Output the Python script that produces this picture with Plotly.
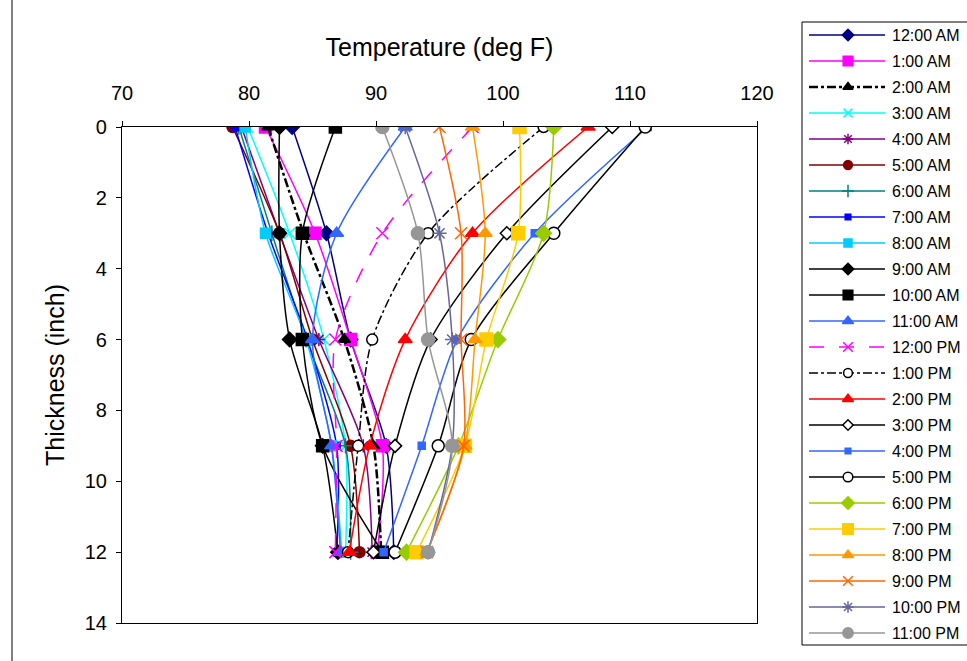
import plotly.graph_objects as go

depths = [0, 3, 6, 9, 12]
x_ticks = [70, 80, 90, 100, 110, 120]
y_ticks = [0, 2, 4, 6, 8, 10, 12, 14]

names = ["12:00 AM", "1:00 AM", "2:00 AM", "3:00 AM", "4:00 AM", "5:00 AM",
         "6:00 AM", "7:00 AM", "8:00 AM", "9:00 AM", "10:00 AM", "11:00 AM",
         "12:00 PM", "1:00 PM", "2:00 PM", "3:00 PM", "4:00 PM", "5:00 PM",
         "6:00 PM", "7:00 PM", "8:00 PM", "9:00 PM", "10:00 PM", "11:00 PM"]

t_12am = [83.4, 86.1, 88.0, 90.8, 91.4]
t_1am = [81.3, 85.2, 88.0, 90.5, 90.1]
t_2am = [81.5, 84.3, 87.5, 89.8, 90.4]
t_3am = [79.9, 83.2, 85.9, 87.6, 87.6]
t_4am = [79.4, 82.4, 85.5, 89.0, 89.7]
t_5am = [78.7, 82.4, 85.0, 88.0, 88.7]
t_6am = [79.2, 81.8, 84.5, 87.6, 88.0]
t_7am = [78.9, 81.5, 84.6, 86.9, 86.9]
t_8am = [79.7, 81.3, 84.5, 86.5, 87.3]
t_9am = [82.4, 82.4, 83.2, 85.8, 87.0]
t_10am = [86.8, 84.2, 84.2, 85.8, 90.5]
t_11am = [92.3, 86.9, 85.0, 86.5, 87.2]
t_12pm = [97.6, 90.5, 86.8, 86.9, 86.8]
t_1pm = [103.2, 94.1, 89.7, 88.6, 87.8]
t_2pm = [106.7, 97.6, 92.3, 89.5, 87.9]
t_3pm = [108.6, 100.3, 94.3, 91.5, 89.8]
t_4pm = [111.4, 102.5, 96.4, 93.6, 90.6]
t_5pm = [111.2, 104.0, 97.5, 94.9, 91.5]
t_6pm = [104.0, 103.2, 99.6, 96.5, 92.4]
t_7pm = [101.3, 101.2, 98.7, 97.0, 93.2]
t_8pm = [97.6, 98.6, 97.8, 97.0, 94.0]
t_9pm = [95.0, 96.7, 96.7, 96.9, 94.0]
t_10pm = [92.3, 95.0, 96.0, 96.0, 94.1]
t_11pm = [90.5, 93.3, 94.1, 96.0, 94.1]

series = [t_12am, t_1am, t_2am, t_3am, t_4am, t_5am, t_6am, t_7am, t_8am,
          t_9am, t_10am, t_11am, t_12pm, t_1pm, t_2pm, t_3pm, t_4pm, t_5pm,
          t_6pm, t_7pm, t_8pm, t_9pm, t_10pm, t_11pm]

# (color, dash, width, marker symbol, marker size, marker fill, marker line color)
styles = [
    ("#000080", "solid", 1.5, "diamond", 11, "#000080", "#000080"),
    ("#FF00FF", "solid", 1.5, "square", 12, "#FF00FF", "#FF00FF"),
    ("#000000", "dashdot", 2.5, "triangle-up", 11, "#000000", "#000000"),
    ("#00FFFF", "solid", 1.5, "x-thin-open", 11, "#00FFFF", "#00FFFF"),
    ("#800080", "solid", 1.5, "asterisk-open", 11, "#800080", "#800080"),
    ("#800000", "solid", 1.5, "circle", 11, "#800000", "#800000"),
    ("#008080", "solid", 1.5, "cross-thin-open", 11, "#008080", "#008080"),
    ("#0000FF", "solid", 1.5, "square", 7, "#0000FF", "#0000FF"),
    ("#00CCFF", "solid", 1.5, "square", 10, "#00CCFF", "#00CCFF"),
    ("#000000", "solid", 1.5, "diamond", 11, "#000000", "#000000"),
    ("#000000", "solid", 1.5, "square", 12, "#000000", "#000000"),
    ("#3366FF", "solid", 1.5, "triangle-up", 12, "#3366FF", "#3366FF"),
    ("#FF00FF", "longdash", 1.5, "x-thin-open", 12, "#FF00FF", "#FF00FF"),
    ("#000000", "dashdot", 1.5, "circle", 11, "#FFFFFF", "#000000"),
    ("#FF0000", "solid", 1.5, "triangle-up", 12, "#FF0000", "#FF0000"),
    ("#000000", "solid", 1.5, "diamond", 10, "#FFFFFF", "#000000"),
    ("#3366FF", "solid", 1.5, "square", 7, "#3366FF", "#3366FF"),
    ("#000000", "solid", 1.5, "circle", 12, "#FFFFFF", "#000000"),
    ("#99CC00", "solid", 1.5, "diamond", 12, "#99CC00", "#99CC00"),
    ("#FFCC00", "solid", 1.5, "square", 13, "#FFCC00", "#FFCC00"),
    ("#FF9900", "solid", 1.5, "triangle-up", 12, "#FF9900", "#FF9900"),
    ("#FF6600", "solid", 1.5, "x-thin-open", 12, "#FF6600", "#FF6600"),
    ("#666699", "solid", 1.5, "asterisk-open", 12, "#666699", "#666699"),
    ("#969696", "solid", 1.5, "circle", 13, "#969696", "#969696"),
]

W, H = 967, 661
PL, PR, PT, PB = 122, 757, 127, 623   # plot area in pixels
LX0, LY0, LY1 = 802, 22, 645          # legend box
ROW0, ROWH = 35, 26                   # legend row centres
SX0, SXM, SX1, TX = 809, 848, 885, 890

fig = go.Figure()
for i, (name, vals, st) in enumerate(zip(names, series, styles)):
    color, dash, width, sym, size, fill, mline = st
    fig.add_trace(go.Scatter(
        x=vals, y=depths, name=name, mode="lines+markers", showlegend=False,
        line=dict(color=color, dash=dash, width=width, shape="spline", smoothing=0.8),
        marker=dict(symbol=sym, size=size, color=fill,
                    line=dict(color=mline, width=1.5)),
        xaxis="x", yaxis="y",
    ))
    # legend sample
    ry = ROW0 + ROWH * i
    fig.add_trace(go.Scatter(
        x=[SX0, SX1], y=[ry, ry], mode="lines", showlegend=False,
        hoverinfo="skip", line=dict(color=color, dash=dash, width=width),
        xaxis="x2", yaxis="y2",
    ))
    fig.add_trace(go.Scatter(
        x=[SXM], y=[ry], mode="markers", showlegend=False, hoverinfo="skip",
        marker=dict(symbol=sym, size=size * 0.8, color=fill,
                    line=dict(color=mline, width=1.5)),
        xaxis="x2", yaxis="y2",
    ))
    fig.add_annotation(x=TX, y=ry, xref="x2", yref="y2", text=name,
                       showarrow=False, xanchor="left", yanchor="middle",
                       font=dict(size=16))

font = "Liberation Sans, Arial, sans-serif"
fig.update_layout(
    width=W, height=H,
    margin=dict(l=0, r=0, t=0, b=0),
    paper_bgcolor="white", plot_bgcolor="rgba(0,0,0,0)",
    font=dict(family=font, color="black"),
    showlegend=False,
    xaxis=dict(domain=[PL / W, PR / W], anchor="y",
               side="top", range=[70, 120], tickvals=x_ticks,
               ticks="outside", ticklen=5, tickcolor="black",
               ticklabelstandoff=13, automargin=False,
               showline=True, linecolor="black", linewidth=1.2, mirror=True,
               showgrid=False, zeroline=False,
               tickfont=dict(size=20),
               title=dict(text="Temperature (deg F)", font=dict(size=25), standoff=18)),
    yaxis=dict(domain=[1 - PB / H, 1 - PT / H], anchor="x",
               range=[14, 0], tickvals=y_ticks,
               ticks="outside", ticklen=5, tickcolor="black",
               ticklabelstandoff=5, automargin=False,
               showline=True, linecolor="black", linewidth=1.2, mirror=True,
               showgrid=False, zeroline=False,
               tickfont=dict(size=20),
               title=dict(text="Thickness (inch)", font=dict(size=25), standoff=12)),
    xaxis2=dict(domain=[0, 1], anchor="y2", range=[0, W], visible=False, fixedrange=True),
    yaxis2=dict(domain=[0, 1], anchor="x2", range=[H, 0], visible=False, fixedrange=True),
)

# legend border (right side runs past the picture edge)
fig.add_shape(type="rect", xref="paper", yref="paper",
              x0=LX0 / W, x1=1.01, y0=1 - LY1 / H, y1=1 - LY0 / H,
              line=dict(color="black", width=1), layer="below")
# outer chart frame, left edge
fig.add_shape(type="line", xref="paper", yref="paper",
              x0=12 / W, x1=12 / W, y0=0, y1=1,
              line=dict(color="black", width=1))

fig.write_html("out.html")
